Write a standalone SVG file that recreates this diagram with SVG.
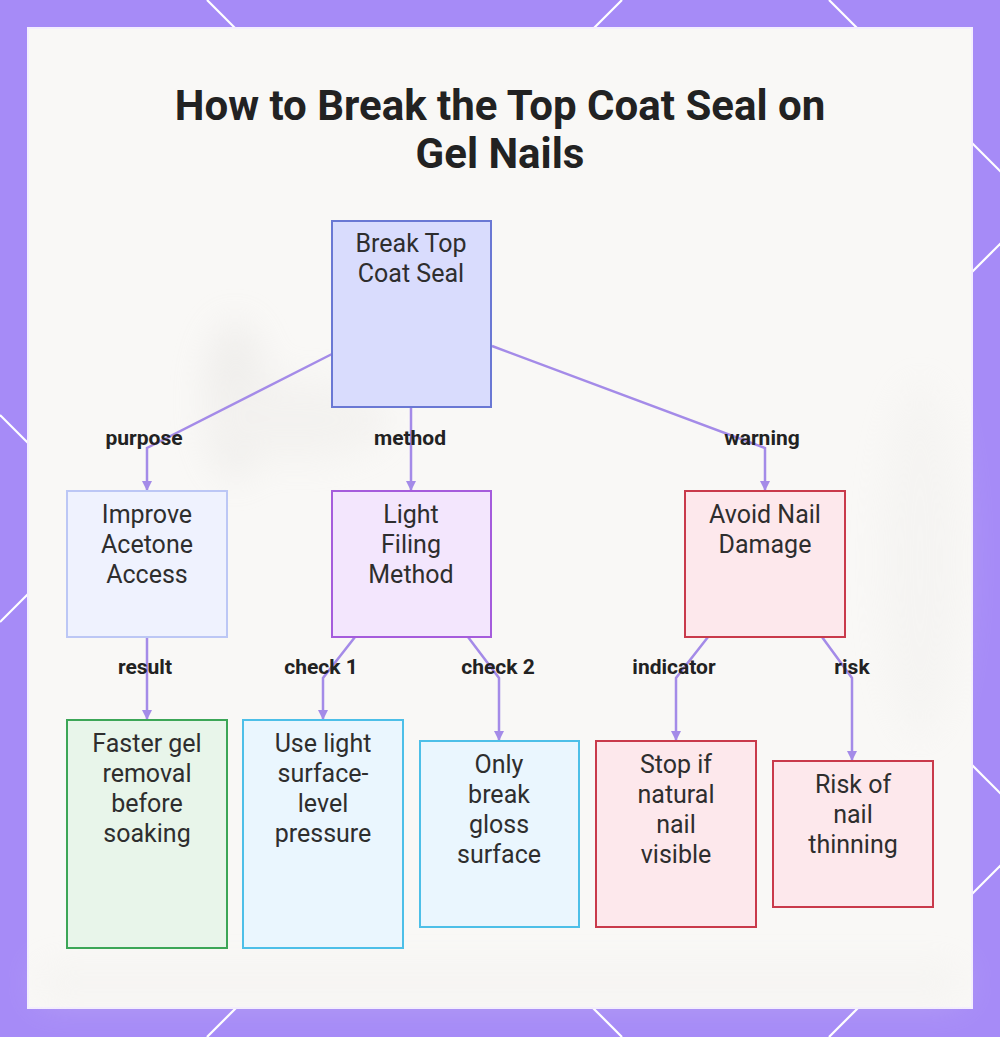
<svg xmlns="http://www.w3.org/2000/svg" width="1000" height="1037" viewBox="0 0 1000 1037">
<defs>
<style>
.node rect{stroke-width:2}
.nt{font-family:Roboto,"Liberation Sans",sans-serif;font-size:25px;fill:#2e2e2e;text-anchor:middle}
.lbl{font-family:Roboto,"Liberation Sans",sans-serif;font-size:21px;font-weight:bold;fill:#222;text-anchor:middle}
.edge{fill:none;stroke:#a48be8;stroke-width:2.5;marker-end:url(#ah)}
.lat{stroke:#ffffff;stroke-width:2.2}
</style>
<marker id="ah" viewBox="0 0 10 10" refX="9" refY="5" markerWidth="4" markerHeight="4" orient="auto" markerUnits="strokeWidth">
<path d="M0,0 L10,5 L0,10 z" fill="#a48be8"/>
</marker>
<filter id="blur" x="-50%" y="-50%" width="200%" height="200%"><feGaussianBlur stdDeviation="18"/></filter>
</defs>
<rect x="0" y="0" width="1000" height="1037" fill="#a68bf7"/>
<g id="lattice">
<line class="lat" x1="207" y1="0" x2="1244" y2="1037"/>
<line class="lat" x1="0" y1="415" x2="622" y2="1037"/>
<line class="lat" x1="829" y1="0" x2="1866" y2="1037"/>
<line class="lat" x1="622" y1="0" x2="0" y2="622"/>
<line class="lat" x1="1244" y1="0" x2="207" y2="1037"/>
<line class="lat" x1="1866" y1="0" x2="829" y2="1037"/>
</g>
<rect x="28" y="28" width="944" height="980" fill="#f9f8f6" stroke="#f4eeff" stroke-width="2"/>
<g id="bg" filter="url(#blur)" opacity="0.3">
<ellipse cx="235" cy="400" rx="30" ry="80" fill="#d8d6d3"/>
<ellipse cx="300" cy="420" rx="90" ry="40" fill="#e6e4e1"/>
<rect x="40" y="965" width="920" height="35" fill="#eceae7"/>
<ellipse cx="920" cy="560" rx="40" ry="180" fill="#ecebe9"/>
</g>
<g id="title" font-family="Roboto,'Liberation Sans',sans-serif" font-weight="bold" font-size="42" fill="#222" text-anchor="middle">
<text x="500" y="120">How to Break the Top Coat Seal on</text>
<text x="500" y="168">Gel Nails</text>
</g>
<g id="connectors">
<path class="edge" d="M332,354 L147,448 L147,490"/>
<path class="edge" d="M411,407 L411,490"/>
<path class="edge" d="M492,346 L765,448 L765,490"/>
<path class="edge" d="M147,637 L147,719"/>
<path class="edge" d="M355,637 L323,678 L323,719"/>
<path class="edge" d="M468,637 L499,678 L499,740"/>
<path class="edge" d="M708,637 L676,678 L676,740"/>
<path class="edge" d="M822,637 L852,678 L852,760"/>
</g>
<g id="edge-labels">
<text class="lbl" x="144" y="445">purpose</text>
<text class="lbl" x="410" y="445">method</text>
<text class="lbl" x="762" y="445">warning</text>
<text class="lbl" x="145" y="674">result</text>
<text class="lbl" x="321" y="674">check 1</text>
<text class="lbl" x="498" y="674">check 2</text>
<text class="lbl" x="674" y="674">indicator</text>
<text class="lbl" x="852" y="674">risk</text>
</g>
<g id="n-root" class="node">
<rect x="332" y="221" width="159" height="186" fill="#d9dcfd" stroke="#6a78d4"/>
<text class="nt" x="411" y="252">Break Top</text>
<text class="nt" x="411" y="282">Coat Seal</text>
</g>
<g id="n-improve" class="node">
<rect x="67" y="491" width="160" height="146" fill="#eff2fe" stroke="#bcc7f5"/>
<text class="nt" x="147" y="523">Improve</text>
<text class="nt" x="147" y="553">Acetone</text>
<text class="nt" x="147" y="583">Access</text>
</g>
<g id="n-filing" class="node">
<rect x="332" y="491" width="159" height="146" fill="#f3e6fd" stroke="#a55cdc"/>
<text class="nt" x="411" y="523">Light</text>
<text class="nt" x="411" y="553">Filing</text>
<text class="nt" x="411" y="583">Method</text>
</g>
<g id="n-avoid" class="node">
<rect x="685" y="491" width="160" height="146" fill="#fde8ec" stroke="#c93a4b"/>
<text class="nt" x="765" y="523">Avoid Nail</text>
<text class="nt" x="765" y="553">Damage</text>
</g>
<g id="n-faster" class="node">
<rect x="67" y="720" width="160" height="228" fill="#e8f5ea" stroke="#3ca657"/>
<text class="nt" x="147" y="752">Faster gel</text>
<text class="nt" x="147" y="782">removal</text>
<text class="nt" x="147" y="812">before</text>
<text class="nt" x="147" y="842">soaking</text>
</g>
<g id="n-use" class="node">
<rect x="243" y="720" width="160" height="228" fill="#eaf6fe" stroke="#4dbfe8"/>
<text class="nt" x="323" y="752">Use light</text>
<text class="nt" x="323" y="782">surface-</text>
<text class="nt" x="323" y="812">level</text>
<text class="nt" x="323" y="842">pressure</text>
</g>
<g id="n-only" class="node">
<rect x="420" y="741" width="159" height="186" fill="#eaf6fe" stroke="#4dbfe8"/>
<text class="nt" x="499" y="773">Only</text>
<text class="nt" x="499" y="803">break</text>
<text class="nt" x="499" y="833">gloss</text>
<text class="nt" x="499" y="863">surface</text>
</g>
<g id="n-stop" class="node">
<rect x="596" y="741" width="160" height="186" fill="#fde8ec" stroke="#c93a4b"/>
<text class="nt" x="676" y="773">Stop if</text>
<text class="nt" x="676" y="803">natural</text>
<text class="nt" x="676" y="833">nail</text>
<text class="nt" x="676" y="863">visible</text>
</g>
<g id="n-risk" class="node">
<rect x="773" y="761" width="160" height="146" fill="#fde8ec" stroke="#c93a4b"/>
<text class="nt" x="853" y="793">Risk of</text>
<text class="nt" x="853" y="823">nail</text>
<text class="nt" x="853" y="853">thinning</text>
</g>
</svg>
